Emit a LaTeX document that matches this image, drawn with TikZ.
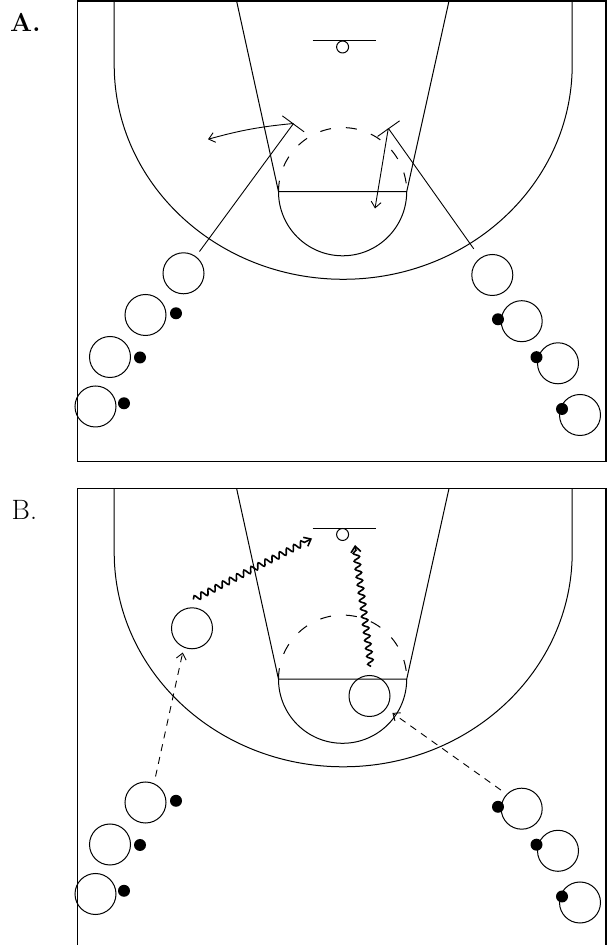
\documentclass[tikz,border=0pt]{standalone}
\usepackage{xcolor}
\usepackage{tikz}
\usetikzlibrary{arrows.meta, decorations.pathmorphing}
\tikzset{
  player/.style={draw, circle, line width=1pt, minimum size=41pt, inner sep=0pt},
  ball/.style={fill, circle, minimum size=12pt, inner sep=0pt},
  move/.style={-{Straight Barb[length=6pt, width=10pt]}, line width=0.9pt},
  cutline/.style={-{Bar[width=27pt]}, line width=0.9pt},
  dribble/.style={
      move, line width=1.6pt, decorate,
      decoration={snake, amplitude=3pt, segment length=8pt, post length=5pt}
    }
}

\begin{document}
\begin{tikzpicture}[
    x=1pt, y=1pt,
    courtline/.style={line width=1pt},
    courtframe/.style={line width=1.8pt},
    panelname/.style={anchor=base west, inner sep=0pt},
    walk/.style={move, dash pattern=on 7pt off 6pt}
  ]

  \useasboundingbox (0,0) rectangle (610,945);

  \foreach \t in {944, 456.5} {
    \draw[courtframe] (77.5,\t) rectangle (606,\t-460.5);
    \draw[courtline] (114.2,\t) -- (114.2,\t-64)
      arc[start angle=180, end angle=360, x radius=229, y radius=214.3] -- (572.2,\t);
    \draw[courtline] (236.6,\t) -- (278.5,\t-190.7) -- (406.7,\t-190.7) -- (449,\t);
    \draw[courtline] (278.5,\t-190.7) arc[start angle=180, end angle=360, radius=64.1];
    \draw[courtline, dash pattern=on 11pt off 15pt]
      (278.5,\t-190.7) arc[start angle=180, end angle=0, radius=64.1];
    \draw[courtline] (312.5,\t-39.7) -- (376,\t-39.7);
    \draw[courtline] (342.6,\t-46) circle[radius=6];
  }

  \node[panelname, font=\bfseries\fontsize{26}{26}\selectfont] (na) at (10,913) {A.};
  \node[panelname, font=\fontsize{28}{28}\selectfont] (nb) at (11.5,425.7) {B.};

  \node[player] (la1) at (183.5,671.7) {};
  \node[player] (la2) at (145.5,630) {};
  \node[player] (la3) at (110,588) {};
  \node[player] (la4) at (95.5,538.5) {};
  \node[ball] (bla2) at (176,631.7) {};
  \node[ball] (bla3) at (140,587.5) {};
  \node[ball] (bla4) at (124,541.7) {};

  \node[player] (ra1) at (492.3,670) {};
  \node[player] (ra2) at (521.7,623.8) {};
  \node[player] (ra3) at (558,581.7) {};
  \node[player] (ra4) at (580,530) {};
  \node[ball] (bra2) at (498,625.7) {};
  \node[ball] (bra3) at (536.5,587.8) {};
  \node[ball] (bra4) at (562,536) {};

  \coordinate (elbl) at (293.5,821.5);
  \coordinate (elbr) at (388.3,816.7);
  \coordinate (passl) at (208,805.7);
  \coordinate (passr) at (375,736.5);

  \draw[cutline, shorten <=6pt] (la1) -- (elbl);
  \draw[cutline, shorten <=11pt] (ra1) -- (elbr);
  \draw[move] (elbl) to[bend right=5] (passl);
  \draw[move] (elbr) -- (passr);

  \node[player] (lb2) at (145.5,142.5) {};
  \node[player] (lb3) at (110,100.5) {};
  \node[player] (lb4) at (95.5,51) {};
  \node[ball] (blb2) at (176,144.2) {};
  \node[ball] (blb3) at (140,100) {};
  \node[ball] (blb4) at (124,54.2) {};

  \node[player] (rb2) at (521.7,136.3) {};
  \node[player] (rb3) at (558,94.2) {};
  \node[player] (rb4) at (580,42.5) {};
  \node[ball] (brb2) at (498,138.2) {};
  \node[ball] (brb3) at (536.5,100.3) {};
  \node[ball] (brb4) at (562,48.5) {};

  \node[player] (wing) at (192,316.7) {};
  \node[player] (post) at (369.5,249) {};

  \coordinate (shotl) at (312,406.5);
  \coordinate (shotc) at (355,400);

  \draw[walk, shorten <=7pt, shorten >=5pt] (lb2.66) -- (wing.247);
  \draw[walk, shorten <=7pt, shorten >=7.5pt] (rb2.136) -- (post.323);
  \draw[dribble] ([shift={(1.3,7.8)}]wing.north) -- (shotl);
  \draw[dribble] ([shift={(1.5,8.5)}]post.north) -- (shotc);

\end{tikzpicture}
\end{document}
